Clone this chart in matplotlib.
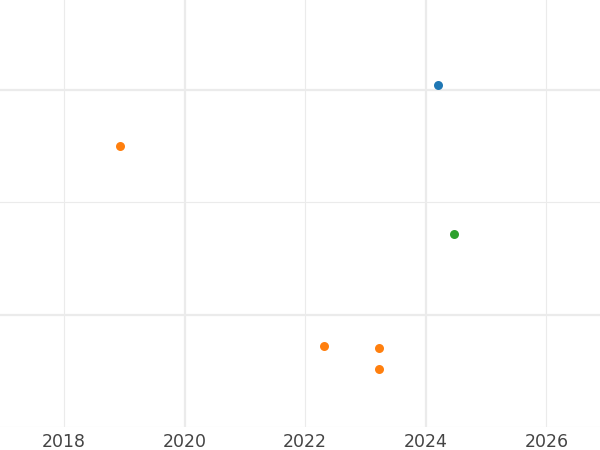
import matplotlib
matplotlib.use("Agg")
import matplotlib.pyplot as plt
from matplotlib.ticker import MultipleLocator, FormatStrFormatter, NullFormatter

# data
blue_x = [2024.20]
blue_y = [1.02]
orange_x = [2018.93, 2022.31, 2023.22, 2023.22]
orange_y = [0.75, -0.14, -0.15, -0.24]
green_x = [2024.47]
green_y = [0.36]

fig = plt.figure(figsize=(6, 4.5), dpi=100)
ax = fig.add_axes([0, 23/450, 1, 427/450])

ax.scatter(blue_x, blue_y, s=42, color="#1f77b4", zorder=3, linewidths=0)
ax.scatter(orange_x, orange_y, s=42, color="#ff7f0e", zorder=3, linewidths=0)
ax.scatter(green_x, green_y, s=42, color="#2ca02c", zorder=3, linewidths=0)

ax.set_xlim(2016.94, 2026.89)
ax.set_ylim(-0.50, 1.40)

ax.xaxis.set_major_locator(MultipleLocator(4))
ax.xaxis.set_minor_locator(MultipleLocator(2))
ax.xaxis.set_major_formatter(FormatStrFormatter("%d"))
ax.xaxis.set_minor_formatter(FormatStrFormatter("%d"))
ax.yaxis.set_major_locator(MultipleLocator(1))
ax.yaxis.set_minor_locator(MultipleLocator(0.5))
ax.yaxis.set_major_formatter(NullFormatter())
ax.yaxis.set_minor_formatter(NullFormatter())

ax.grid(which="major", color="#ebebeb", linewidth=1.6)
ax.grid(which="minor", color="#ebebeb", linewidth=0.8)
ax.set_axisbelow(True)

ax.tick_params(axis="both", which="both", length=0)
ax.tick_params(axis="x", which="both", labelsize=12.5, labelcolor="#444444", pad=4)
for s in ax.spines.values():
    s.set_visible(False)

fig.savefig("out.png", dpi=100)
